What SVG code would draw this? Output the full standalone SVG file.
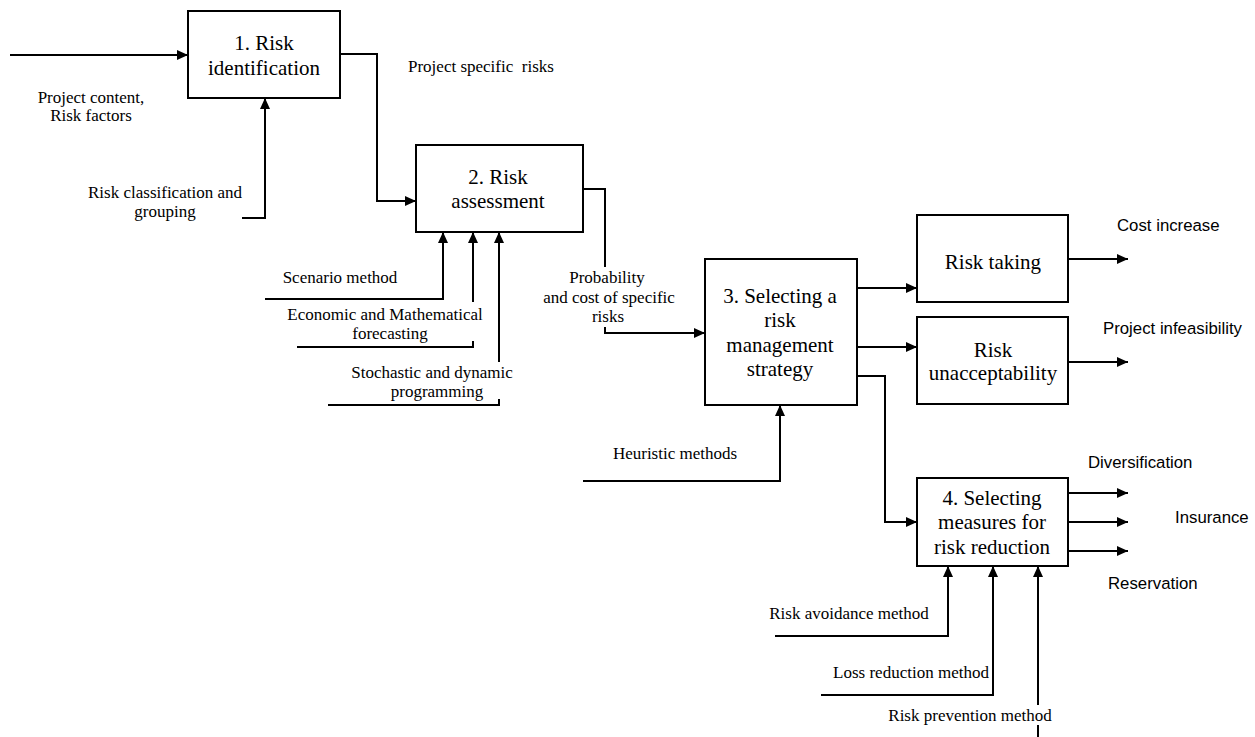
<svg xmlns="http://www.w3.org/2000/svg" width="1255" height="737" viewBox="0 0 1255 737">
<style>
.box{fill:#fff;stroke:#000;stroke-width:2}
.c{fill:none;stroke:#000;stroke-width:2}
.t{font-family:"Liberation Serif","Times New Roman",serif;font-size:21px;fill:#000;text-anchor:middle}
.s{font-family:"Liberation Serif","Times New Roman",serif;font-size:17px;fill:#000;white-space:pre}
.m{text-anchor:middle}
.a{font-family:"Liberation Sans",Arial,sans-serif;font-size:16.8px;fill:#000}
</style>
<defs>
<marker id="ah" markerUnits="userSpaceOnUse" markerWidth="11" markerHeight="10" refX="11" refY="5" orient="auto">
<path d="M0,0 L11,5 L0,10 z" fill="#000"/>
</marker>
</defs>
<rect width="1255" height="737" fill="#fff"/>
<g id="connectors">
<path class="c" d="M10,55 H188" marker-end="url(#ah)"/>
<path class="c" d="M242,218 H265 V98" marker-end="url(#ah)"/>
<path class="c" d="M340,54 H377 V201 H416" marker-end="url(#ah)"/>
<path class="c" d="M265,299 H443 V232" marker-end="url(#ah)"/>
<path class="c" d="M473,302 V232" marker-end="url(#ah)"/>
<path class="c" d="M297,347 H473 V341"/>
<path class="c" d="M499,362 V232" marker-end="url(#ah)"/>
<path class="c" d="M328,405 H499 V399"/>
<path class="c" d="M583,189 H605 V267"/>
<path class="c" d="M605,327 V333 H705" marker-end="url(#ah)"/>
<path class="c" d="M857,288 H917" marker-end="url(#ah)"/>
<path class="c" d="M857,347 H917" marker-end="url(#ah)"/>
<path class="c" d="M857,376 H885 V522 H917" marker-end="url(#ah)"/>
<path class="c" d="M583,481 H780 V405" marker-end="url(#ah)"/>
<path class="c" d="M1068,259 H1128" marker-end="url(#ah)"/>
<path class="c" d="M1068,362 H1128" marker-end="url(#ah)"/>
<path class="c" d="M1068,493 H1128" marker-end="url(#ah)"/>
<path class="c" d="M1068,522 H1128" marker-end="url(#ah)"/>
<path class="c" d="M1068,551 H1128" marker-end="url(#ah)"/>
<path class="c" d="M775,636 H948 V566" marker-end="url(#ah)"/>
<path class="c" d="M821,695 H993 V566" marker-end="url(#ah)"/>
<path class="c" d="M1038,705 V566" marker-end="url(#ah)"/>
<path class="c" d="M1038,725 V737"/>
</g>
<g id="labels">
<text class="s m" x="91" y="103">Project content,</text>
<text class="s m" x="91" y="121">Risk factors</text>
<text class="s m" x="165" y="198">Risk classification and</text>
<text class="s m" x="165" y="217">grouping</text>
<text class="s" x="408" y="72">Project specific  risks</text>
<text class="s m" x="340" y="283">Scenario method</text>
<text class="s m" x="385" y="320">Economic and Mathematical</text>
<text class="s m" x="390" y="339">forecasting</text>
<text class="s m" x="432" y="378">Stochastic and dynamic</text>
<text class="s m" x="437" y="397">programming</text>
<text class="s m" x="607" y="283">Probability</text>
<text class="s m" x="609" y="303">and cost of specific</text>
<text class="s m" x="608" y="322">risks</text>
<text class="s m" x="675" y="459">Heuristic methods</text>
<text class="s m" x="849" y="619">Risk avoidance method</text>
<text class="s m" x="911" y="678">Loss reduction method</text>
<text class="s m" x="970" y="721">Risk prevention method</text>
<text class="a" x="1117" y="231">Cost increase</text>
<text class="a" x="1103" y="334">Project infeasibility</text>
<text class="a" x="1088" y="468">Diversification</text>
<text class="a" x="1175" y="523">Insurance</text>
<text class="a" x="1108" y="589">Reservation</text>
</g>
<g id="n1">
<rect class="box" x="188" y="11" width="152" height="87"/>
<text class="t" x="264" y="50">1. Risk</text>
<text class="t" x="264" y="75">identification</text>
</g>
<g id="n2">
<rect class="box" x="416" y="145" width="167" height="87"/>
<text class="t" x="498" y="184">2. Risk</text>
<text class="t" x="498" y="208">assessment</text>
</g>
<g id="n3">
<rect class="box" x="705" y="259" width="152" height="146"/>
<text class="t" x="780" y="303">3. Selecting a</text>
<text class="t" x="780" y="327">risk</text>
<text class="t" x="780" y="352">management</text>
<text class="t" x="780" y="376">strategy</text>
</g>
<g id="n_taking">
<rect class="box" x="917" y="215" width="151" height="87"/>
<text class="t" x="993" y="269">Risk taking</text>
</g>
<g id="n_unacc">
<rect class="box" x="917" y="317" width="151" height="87"/>
<text class="t" x="993" y="357">Risk</text>
<text class="t" x="993" y="380">unacceptability</text>
</g>
<g id="n4">
<rect class="box" x="917" y="478" width="151" height="88"/>
<text class="t" x="992" y="505">4. Selecting</text>
<text class="t" x="992" y="529">measures for</text>
<text class="t" x="992" y="554">risk reduction</text>
</g>
</svg>
